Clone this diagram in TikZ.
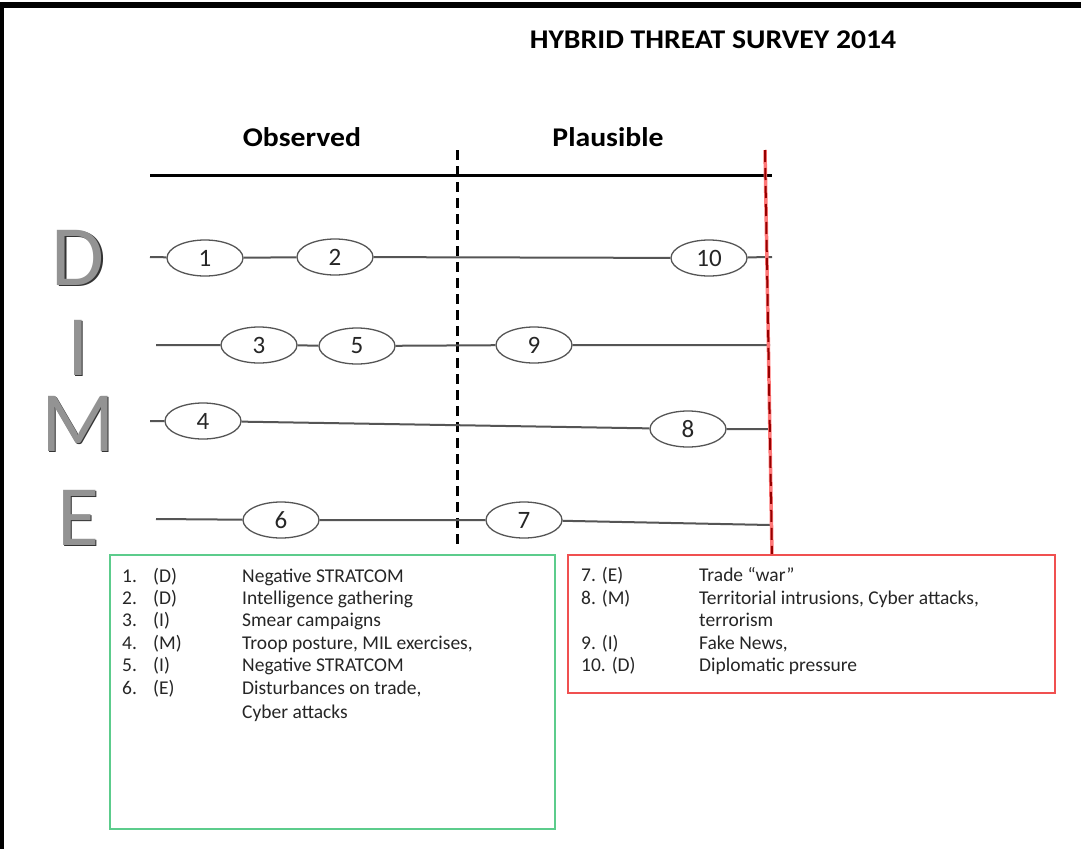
\documentclass[tikz,border=0pt]{standalone}
\usepackage{fontspec}
\setmainfont{Carlito}
\usetikzlibrary{shapes.geometric}
\definecolor{boxgreen}{RGB}{92,204,140}
\definecolor{boxred}{RGB}{240,80,80}
\definecolor{lightred}{RGB}{255,120,120}
\definecolor{darkred}{RGB}{150,0,0}
\definecolor{linegray}{RGB}{85,85,85}
\newcommand{\dimeletter}[1]{\rlap{\kern1.5pt\raisebox{-1.5pt}{\color{gray!40!black}#1}}#1}
\tikzset{
  evt/.style={ellipse, draw=linegray, line width=1.3pt, fill=white, minimum width=76pt, minimum height=36pt, inner sep=0pt, font=\fontsize{25}{25}\selectfont, text=black!85},
  row/.style={draw=linegray, line width=2pt},
  dime/.style={font=\fontsize{86}{86}\selectfont, text=gray!85, inner sep=0pt, anchor=base, text height=55pt, text depth=0pt},
  item/.style={anchor=base west, inner sep=0pt, font=\fontsize{19.5}{19.5}\selectfont, text=black!85},
  head/.style={font=\bfseries\fontsize{27}{27}\selectfont, inner sep=0pt, xscale=1.1},
}
\begin{document}
\begin{tikzpicture}[x=1pt,y=-1pt]
\useasboundingbox (0,0) rectangle (1081,849);
\fill[white] (0,0) rectangle (1081,849);
% frame
\fill[black] (0,2) rectangle (1081,8);
\fill[black] (0,2) rectangle (4,849);
% title and headers
\node[font=\bfseries\fontsize{27}{27}\selectfont, inner sep=0pt, xscale=1.1] (title) at (713,40) {HYBRID THREAT SURVEY 2014};
\node[head] (obs) at (302,137) {Observed};
\node[head] (pla) at (608,137) {Plausible};
% axis
\coordinate (axL) at (150,175);
\coordinate (axR) at (772,175);
\draw[line width=3pt] (axL) -- (axR);
% dashed divider
\coordinate (dvT) at (457,150);
\coordinate (dvB) at (457,548);
\draw[line width=3pt, dash pattern=on 10pt off 6pt] (dvT) -- (dvB);
% DIME letters
\foreach \L/\yy in {D/285, I/375, M/451, E/545}{
  \node[dime] (L\L) at (78,\yy) {\dimeletter{\L}};
}
% D row
\coordinate (dS) at (150,257);
\coordinate (dE) at (772,257);
\node[evt] (e1) at (205,258) {1};
\node[evt] (e2) at (335,257) {2};
\node[evt] (e10) at (709,258) {10};
\draw[row] (dS) -- (e1) (e1) -- (e2) (e2) -- (e10) (e10) -- (dE);
% I row
\coordinate (iS) at (156,345);
\coordinate (iE) at (770,345);
\node[evt] (e3) at (259,345) {3};
\node[evt] (e5) at (357,346) {5};
\node[evt] (e9) at (534,345) {9};
\draw[row] (iS) -- (e3) (e3) -- (e5) (e5) -- (e9) (e9) -- (iE);
% M row
\coordinate (mS) at (150,421);
\coordinate (mE) at (770,429);
\node[evt] (e4) at (203,421) {4};
\node[evt] (e8) at (688,429) {8};
\draw[row] (mS) -- (e4) (e4) -- (e8) (e8) -- (mE);
% E row
\coordinate (xS) at (156,519);
\coordinate (xE) at (770,525);
\node[evt] (e6) at (281,520) {6};
\node[evt] (e7) at (524,520) {7};
\draw[row] (xS) -- (e6) (e6) -- (e7) (e7) -- (xE);
% red boundary
\coordinate (rT) at (765,150);
\coordinate (rB) at (772,555);
\draw[lightred, line width=3.5pt] (rT) -- (rB);
\draw[darkred, line width=2pt, dash pattern=on 12pt off 6pt] (rT) -- (rB);
% boxes
\draw[boxgreen, line width=2pt] (110,555) rectangle (555,829);
\draw[boxred, line width=2pt] (568,555) rectangle (1055,693);
% green list
\foreach \n/\c/\t/\yy in {1./(D)/Negative STRATCOM/582, 2./(D)/Intelligence gathering/604, 3./(I)/Smear campaigns/626, 4./(M)/{Troop posture, MIL exercises,}/649, 5./(I)/Negative STRATCOM/671, 6./(E)/{Disturbances on trade,}/694}{
  \node[item] at (122,\yy) {\n};
  \node[item] at (153,\yy) {\c};
  \node[item] at (242,\yy) {\t};
}
\node[item] at (242,718) {Cyber attacks};
% red list
\foreach \c/\t/\yy in {7. (E)/{Trade ``war''}/581, 8. (M)/{Territorial intrusions, Cyber attacks,}/604, 9. (I)/{Fake News,}/649, 10. (D)/Diplomatic pressure/671}{
  \node[item] at (581,\yy) {\c};
  \node[item] at (699,\yy) {\t};
}
\node[item] at (699,626) {terrorism};
\end{tikzpicture}
\end{document}
